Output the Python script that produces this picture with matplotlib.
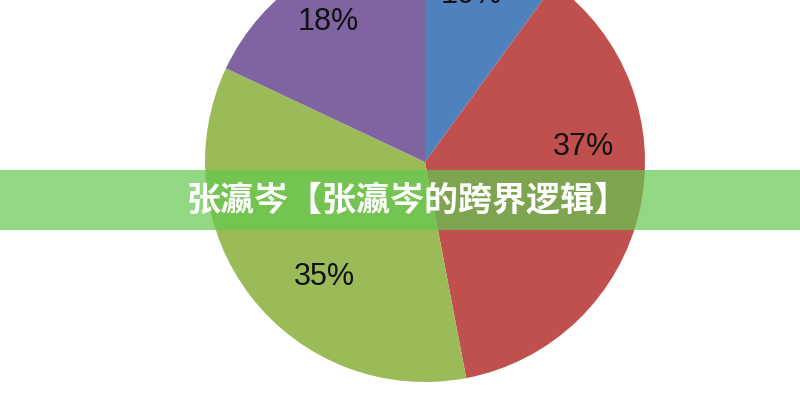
import matplotlib.pyplot as plt

# ==================== 数据 ====================
shares = [10, 37, 35, 18]
slice_colors = ['#4F81BD', '#C0504D', '#9BBB59', '#8064A2']
banner_title = '张瀛岑【张瀛岑的跨界逻辑】'

# 百分比标签位置（像素坐标，y 向上）
label_xy = [(471, 405), (583, 253), (324, 123), (328, 378)]

# ==================== 绘图 ====================
fig = plt.figure(figsize=(8, 4), dpi=100)
ax = fig.add_axes([0, 0, 1, 1])

wedges, texts, autotexts = ax.pie(
    shares,
    colors=slice_colors,
    startangle=90,
    counterclock=False,
    center=(425, 238),
    radius=220,
    autopct='%d%%',
    pctdistance=0.73,
    textprops={'fontsize': 22, 'family': 'Liberation Sans', 'color': '#111111'},
    wedgeprops={'linewidth': 0},
    frame=True,
)
for t, xy in zip(autotexts, label_xy):
    t.set_position(xy)

ax.set_xlim(0, 800)
ax.set_ylim(0, 400)
ax.set_aspect('equal')
ax.axis('off')

# 半透明横幅
ax.axhspan(170, 230, color='#64C850', alpha=0.7, linewidth=0)
ax.text(408, 200, banner_title, color='white', fontsize=24.5, fontweight='bold',
        ha='center', va='center', family=['Noto Sans CJK SC', 'DejaVu Sans'])

plt.savefig('out.png', dpi=100)
